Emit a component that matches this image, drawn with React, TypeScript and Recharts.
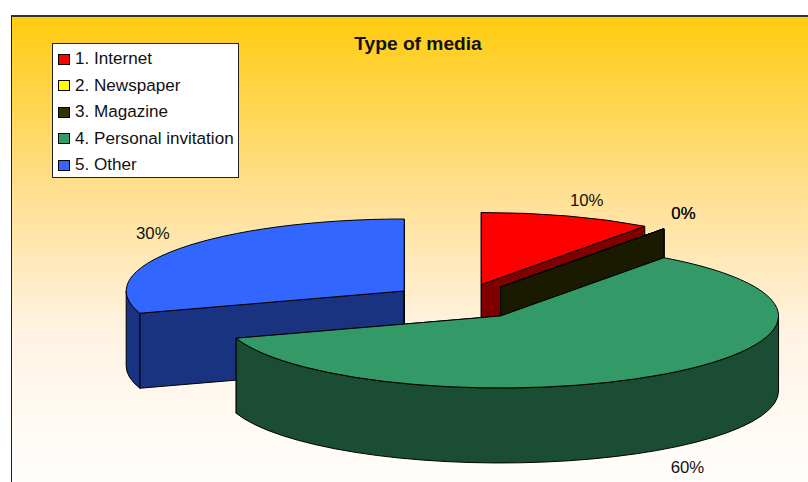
import React from "react";
import { PieChart, Pie, Legend } from "recharts";

// slices in drawing order: back ones first, so Other starts the sweep
const categories = ["5. Other", "1. Internet", "2. Newspaper", "3. Magazine", "4. Personal invitation"];
const shares = [30, 10, 0, 0, 60];
const colors = ["#3366FF", "#FF0000", "#FFFF00", "#333300", "#339966"];
const sideColors = ["#1A3380", "#800000", "#808000", "#1A1A00", "#1A4D33"];

const data = categories.map((name, i) => ({
  name,
  value: shares[i],
  fill: colors[i],
  side: sideColors[i],
}));

const TILT = 0.259;
const DEPTH = 75;
const EXPLODE = 69;
const FONT = "'Liberation Sans', Arial, sans-serif";

const rad = (d: number) => (d * Math.PI) / 180;

// fake 3D wedge: recharts gives the angles, we squash them onto an ellipse
function Wedge3D(props: any) {
  const { cx, cy, outerRadius: r, startAngle, endAngle, midAngle, fill, side } = props;
  const ax = cx + EXPLODE * Math.cos(rad(midAngle));
  const ay = cy - EXPLODE * TILT * Math.sin(rad(midAngle));
  // angles clockwise from the top are easier to read here
  const from = ((90 - startAngle) % 360 + 360) % 360;
  const to = from + (startAngle - endAngle);
  const px = (t: number) => ax + r * Math.sin(rad(t));
  const py = (t: number) => ay - r * TILT * Math.cos(rad(t));
  const arc = (a: number, b: number, dy: number, sweep: number) =>
    `A${r} ${r * TILT} 0 ${Math.abs(b - a) > 180 ? 1 : 0} ${sweep} ${px(b)} ${py(b) + dy}`;
  const face = (t: number) =>
    `M${ax} ${ay}L${px(t)} ${py(t)}L${px(t)} ${py(t) + DEPTH}L${ax} ${ay + DEPTH}Z`;
  const lo = Math.max(from, 90);
  const hi = Math.min(to, 270);
  const line = { stroke: "#000", strokeWidth: 1, strokeLinejoin: "round" as const };
  return (
    <g>
      <path d={face(from)} fill={side} {...line} />
      <path d={face(to)} fill={side} {...line} />
      {lo < hi && (
        <path
          d={`M${px(lo)} ${py(lo)}${arc(lo, hi, 0, 1)}L${px(hi)} ${py(hi) + DEPTH}${arc(hi, lo, DEPTH, 0)}Z`}
          fill={side}
          {...line}
        />
      )}
      <path d={`M${ax} ${ay}L${px(from)} ${py(from)}${arc(from, to, 0, 1)}Z`} fill={fill} {...line} />
    </g>
  );
}

function SliceLabel(props: any) {
  const { cx, cy, midAngle, outerRadius: r, percent } = props;
  const c = Math.cos(rad(midAngle));
  const s = Math.sin(rad(midAngle));
  const back = s > 0;
  const x = cx + (EXPLODE + r) * c + (c > 0 ? (back ? 19.5 : 23.5) : -26.5);
  const y = cy - (EXPLODE + r) * TILT * s + (back ? -15.5 : DEPTH + 18);
  return (
    <text x={x} y={y} textAnchor="middle" dominantBaseline="central" fontFamily={FONT} fontSize={16.8} fill="#111">
      {Math.round(percent * 100)}%
    </text>
  );
}

function LegendBox({ payload }: any) {
  const items = [...(payload ?? [])].sort((a, b) => String(a.value).localeCompare(String(b.value)));
  return (
    <div style={{ width: 185, height: 133, background: "#fff", border: "1px solid #222", boxSizing: "content-box" }}>
      {items.map((it: any) => (
        <div key={it.value} style={{ position: "relative", height: 26.6, fontFamily: FONT, fontSize: 17.1, color: "#111" }}>
          <span
            style={{
              position: "absolute",
              left: 5,
              top: 9.5,
              width: 10,
              height: 9,
              background: it.color,
              border: "1px solid #000",
            }}
          />
          <span style={{ position: "absolute", left: 22, top: 5, whiteSpace: "pre" }}>{it.value}</span>
        </div>
      ))}
    </div>
  );
}

export default function App() {
  return (
    <div style={{ position: "absolute", left: 0, top: 0, width: 808, height: 482, background: "#fff", overflow: "hidden" }}>
      <div
        style={{
          position: "absolute",
          left: 11,
          top: 15,
          width: 800,
          height: 480,
          borderLeft: "1px solid #222",
          borderTop: "2px solid #333",
          background: "linear-gradient(180deg, #FFCC0F 0%, #FFDF90 36%, #FFF4E4 66%, #FFFFFF 100%)",
        }}
      />
      <div style={{ position: "absolute", left: 0, top: 0 }}>
        <PieChart width={808} height={482} margin={{ top: 0, right: 0, bottom: 0, left: 0 }}>
          <text x={418} y={50} textAnchor="middle" fontFamily={FONT} fontSize={19.2} fontWeight="bold" fill="#111">
            Type of media
          </text>
          <Pie
            data={data}
            dataKey="value"
            nameKey="name"
            cx={460}
            cy={301.5}
            outerRadius={278}
            startAngle={-162}
            endAngle={-522}
            stroke="none"
            isAnimationActive={false}
            labelLine={false}
            label={SliceLabel}
            shape={Wedge3D}
          />
          <Legend
            layout="vertical"
            align="center"
            verticalAlign="middle"
            content={LegendBox}
            wrapperStyle={{ position: "absolute", left: 52, top: 43, width: 187, height: 135 }}
          />
        </PieChart>
      </div>
    </div>
  );
}
